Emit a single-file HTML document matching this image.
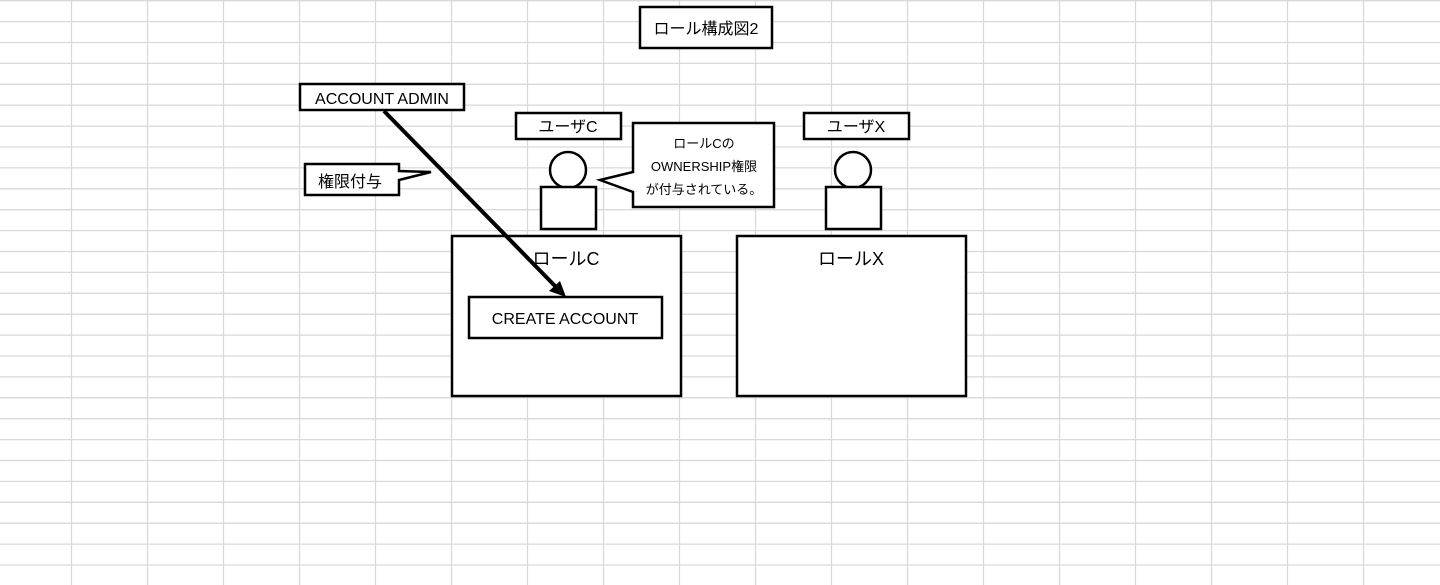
<!DOCTYPE html>
<html><head><meta charset="utf-8"><style>
html,body{margin:0;padding:0;background:#fff;}
svg{display:block;}
text{font-family:"Liberation Sans","Noto Sans CJK JP",sans-serif;fill:#000;}
</style></head><body>
<svg width="1440" height="585" viewBox="0 0 1440 585" xmlns="http://www.w3.org/2000/svg">
<g stroke="#d9d9d9" stroke-width="1.3">
<line x1="0" y1="0.7" x2="1440" y2="0.7"/>
<line x1="0" y1="21.6" x2="1440" y2="21.6"/><line x1="0" y1="42.5" x2="1440" y2="42.5"/><line x1="0" y1="63.4" x2="1440" y2="63.4"/><line x1="0" y1="84.3" x2="1440" y2="84.3"/><line x1="0" y1="105.2" x2="1440" y2="105.2"/><line x1="0" y1="126.1" x2="1440" y2="126.1"/><line x1="0" y1="147" x2="1440" y2="147"/><line x1="0" y1="167.9" x2="1440" y2="167.9"/><line x1="0" y1="188.8" x2="1440" y2="188.8"/><line x1="0" y1="209.7" x2="1440" y2="209.7"/><line x1="0" y1="230.6" x2="1440" y2="230.6"/><line x1="0" y1="251.5" x2="1440" y2="251.5"/><line x1="0" y1="272.4" x2="1440" y2="272.4"/><line x1="0" y1="293.3" x2="1440" y2="293.3"/><line x1="0" y1="314.2" x2="1440" y2="314.2"/><line x1="0" y1="335.1" x2="1440" y2="335.1"/><line x1="0" y1="356" x2="1440" y2="356"/><line x1="0" y1="376.9" x2="1440" y2="376.9"/><line x1="0" y1="397.8" x2="1440" y2="397.8"/><line x1="0" y1="418.7" x2="1440" y2="418.7"/><line x1="0" y1="439.6" x2="1440" y2="439.6"/><line x1="0" y1="460.5" x2="1440" y2="460.5"/><line x1="0" y1="481.4" x2="1440" y2="481.4"/><line x1="0" y1="502.3" x2="1440" y2="502.3"/><line x1="0" y1="523.2" x2="1440" y2="523.2"/><line x1="0" y1="544.1" x2="1440" y2="544.1"/><line x1="0" y1="565" x2="1440" y2="565"/>
<line x1="71.5" y1="0" x2="71.5" y2="585"/><line x1="147.5" y1="0" x2="147.5" y2="585"/><line x1="223.5" y1="0" x2="223.5" y2="585"/><line x1="299.5" y1="0" x2="299.5" y2="585"/><line x1="375.5" y1="0" x2="375.5" y2="585"/><line x1="451.5" y1="0" x2="451.5" y2="585"/><line x1="527.5" y1="0" x2="527.5" y2="585"/><line x1="603.5" y1="0" x2="603.5" y2="585"/><line x1="679.5" y1="0" x2="679.5" y2="585"/><line x1="755.5" y1="0" x2="755.5" y2="585"/><line x1="831.5" y1="0" x2="831.5" y2="585"/><line x1="907.5" y1="0" x2="907.5" y2="585"/><line x1="983.5" y1="0" x2="983.5" y2="585"/><line x1="1059.5" y1="0" x2="1059.5" y2="585"/><line x1="1135.5" y1="0" x2="1135.5" y2="585"/><line x1="1211.5" y1="0" x2="1211.5" y2="585"/><line x1="1287.5" y1="0" x2="1287.5" y2="585"/><line x1="1363.5" y1="0" x2="1363.5" y2="585"/>
</g>
<g stroke="#000" stroke-width="2.5" fill="#fff">
<rect x="640" y="7" width="132" height="41"/>
<rect x="300" y="84" width="164" height="26"/>
<path d="M305 164 H399 V171 L431 172 L399 180 V195 H305 Z"/>
<rect x="516" y="113" width="105" height="26"/>
<circle cx="568" cy="170" r="18"/>
<rect x="541" y="187" width="55" height="42"/>
<path d="M633 123 H774 V207 H633 V192 L600 180 L633 172 Z"/>
<rect x="804" y="113" width="105" height="26"/>
<circle cx="853" cy="170" r="18"/>
<rect x="826" y="187" width="55" height="42"/>
<rect x="452" y="236" width="229" height="160"/>
<rect x="737" y="236" width="229" height="160"/>
<rect x="469" y="297" width="193" height="41"/>
</g>
<line x1="384" y1="111" x2="556" y2="287" stroke="#000" stroke-width="4"/>
<polygon points="566,297 549,291 560,281" fill="#000"/>
<g font-size="16">
<text x="706" y="34" text-anchor="middle">ロール構成図2</text>
<text x="382" y="104" text-anchor="middle">ACCOUNT ADMIN</text>
<text x="318" y="187">権限付与</text>
<text x="568" y="132" text-anchor="middle">ユーザC</text>
<text x="856" y="132" text-anchor="middle">ユーザX</text>
<text x="566" y="265" text-anchor="middle" font-size="18">ロールC</text>
<text x="851" y="265" text-anchor="middle" font-size="18">ロールX</text>
<text x="565" y="324" text-anchor="middle">CREATE ACCOUNT</text>
</g>
<g font-size="13" text-anchor="middle">
<text x="704" y="148">ロールCの</text>
<text x="704" y="171">OWNERSHIP権限</text>
<text x="704" y="194">が付与されている。</text>
</g>
</svg>
</body></html>
